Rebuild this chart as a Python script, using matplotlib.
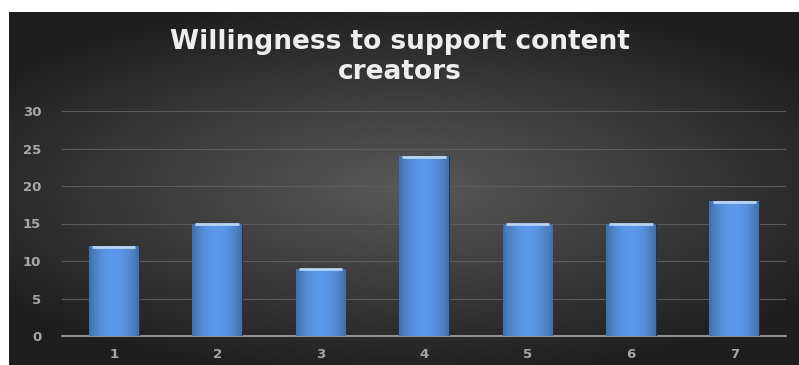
import matplotlib.pyplot as plt
import numpy as np

categories = ['1', '2', '3', '4', '5', '6', '7']
values = [12, 15, 9, 24, 15, 15, 18]
yticks = [0, 5, 10, 15, 20, 25, 30]
title = 'Willingness to support content\ncreators'

W, H = 799, 365
fig = plt.figure(figsize=(W / 100, H / 100), dpi=100)
fig.patch.set_facecolor('white')

# dark radial background panel
bg = fig.add_axes([9 / W, 0, 1 - 9 / W, 1 - 12 / H])
bg.set_axis_off()
yy, xx = np.mgrid[-1:1:200j, -1:1:400j]
r = np.sqrt((xx / 1.0) ** 2 + (yy / 0.85) ** 2)
shade = np.clip(0.35 - 0.18 * r, 0.12, 0.35)
bg.imshow(np.dstack([shade, shade, shade]), aspect='auto', extent=[0, 1, 0, 1])
bg.set_xlim(0, 1)
bg.set_ylim(0, 1)

ax = fig.add_axes([62 / W, 1 - 336 / H, (786 - 62) / W, (336 - 111) / H])
ax.patch.set_alpha(0)
x = np.arange(len(categories))
bars = ax.bar(x, values, width=0.48, color='#4a86d0', edgecolor='#1d3557',
              linewidth=0.8, zorder=3)

# horizontal gradient inside each bar
grad = np.linspace(-1, 1, 100)
intensity = 1 - 0.3 * grad ** 2
cols = np.zeros((1, 100, 3))
cols[0, :, 0] = 0.33 * intensity + 0.03
cols[0, :, 1] = 0.56 * intensity + 0.04
cols[0, :, 2] = 0.86 * intensity + 0.06
for b in bars:
    bx, bw, bh = b.get_x(), b.get_width(), b.get_height()
    im = ax.imshow(cols, extent=[bx, bx + bw, 0, bh], aspect='auto', zorder=3.5)
    im.set_clip_path(b)
    ax.plot([bx + 0.03, bx + bw - 0.03], [bh - 0.12, bh - 0.12],
            color='#b8d4f5', lw=2, zorder=4, solid_capstyle='butt')

ax.set_xlim(-0.5, len(categories) - 0.5)
ax.set_ylim(0, 30)
ax.set_yticks(yticks)
ax.set_xticks(x)
ax.set_xticklabels(categories)
ax.grid(axis='y', color='#5c5c5c', linewidth=0.8, zorder=0)
for s in ['top', 'right', 'left']:
    ax.spines[s].set_visible(False)
ax.spines['bottom'].set_color('#a8a8a8')
ax.spines['bottom'].set_linewidth(1.2)
ax.tick_params(length=0, colors='#a8a8a8', labelsize=9.5)
ax.tick_params(axis='y', pad=15)
ax.tick_params(axis='x', pad=9)
for lab in ax.get_xticklabels() + ax.get_yticklabels():
    lab.set_fontweight('bold')
    lab.set_family('DejaVu Sans')

fig.text(0.5, 1 - 57 / H, title, ha='center', va='center', color='#eeeeee',
         fontsize=19, fontweight='bold', family='DejaVu Sans', linespacing=1.2)

fig.savefig('out.png', dpi=100)
